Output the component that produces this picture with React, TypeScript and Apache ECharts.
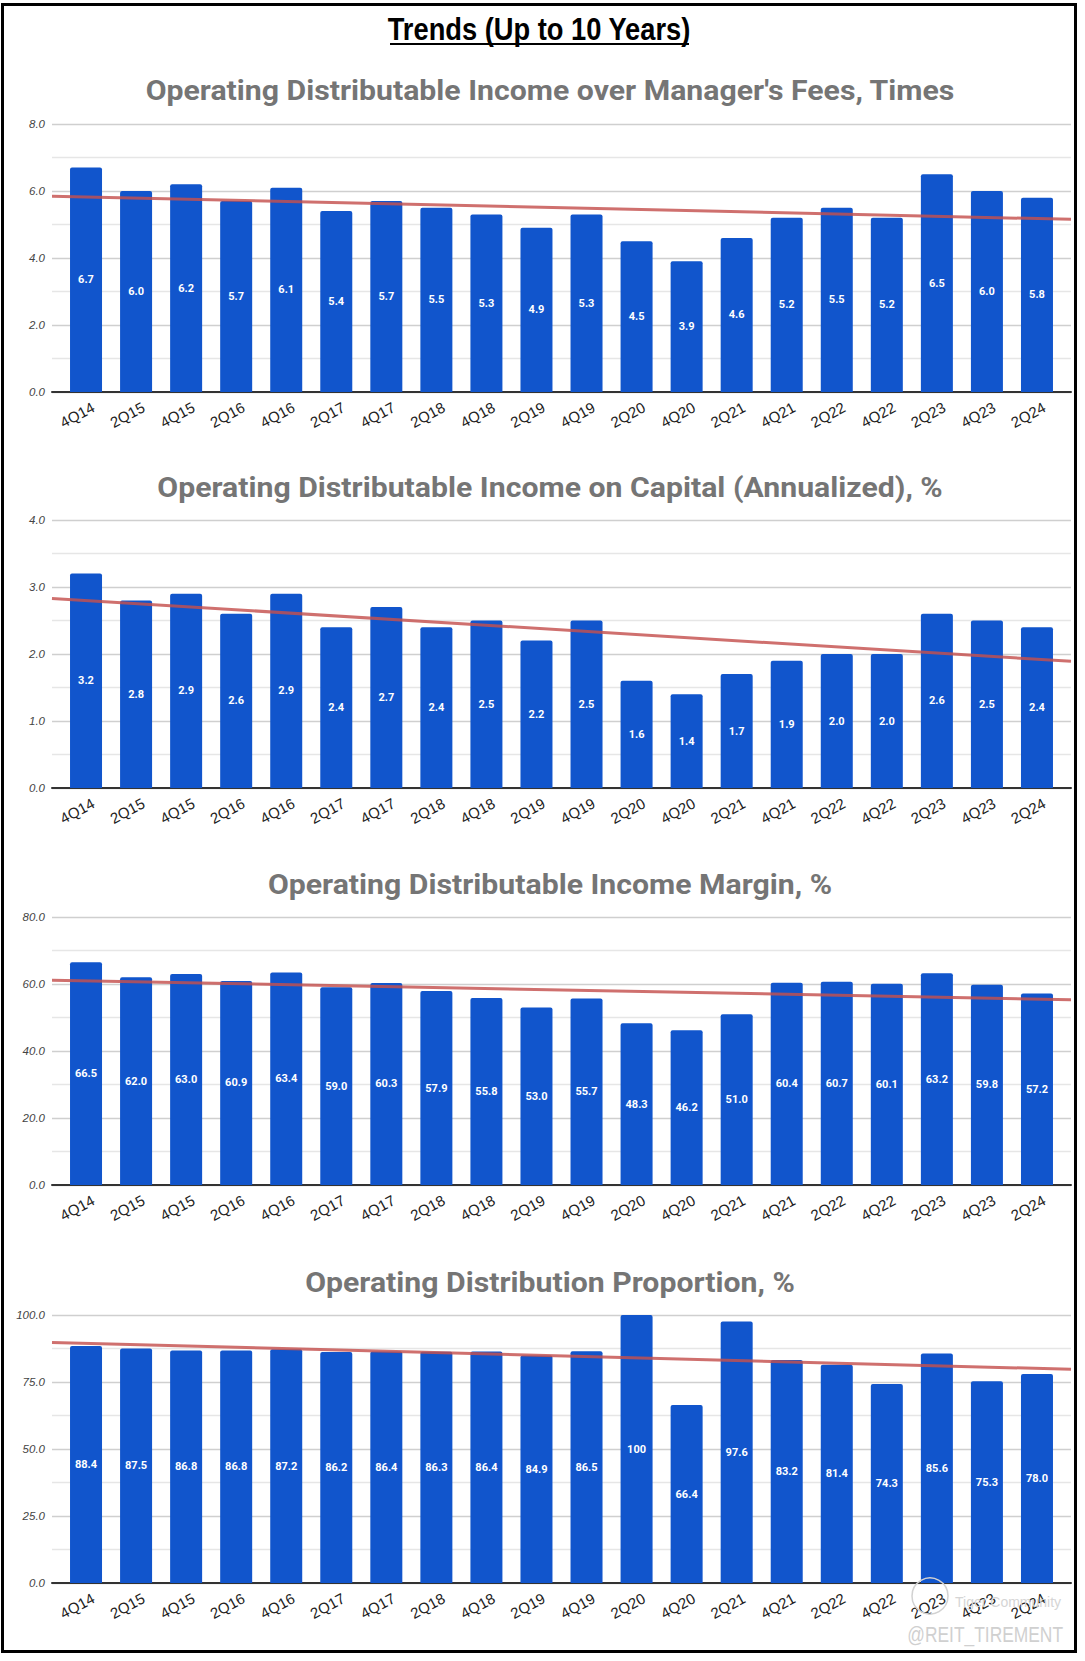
import React, { useEffect, useRef } from "react";
import * as echarts from "echarts";

const categories = [
  "4Q14", "2Q15", "4Q15", "2Q16", "4Q16", "2Q17", "4Q17", "2Q18", "4Q18", "2Q19",
  "4Q19", "2Q20", "4Q20", "2Q21", "4Q21", "2Q22", "4Q22", "2Q23", "4Q23", "2Q24",
];

const incomeOverFees = [6.7, 6.0, 6.2, 5.7, 6.1, 5.4, 5.7, 5.5, 5.3, 4.9, 5.3, 4.5, 3.9, 4.6, 5.2, 5.5, 5.2, 6.5, 6.0, 5.8];
const incomeOnCapital = [3.2, 2.8, 2.9, 2.6, 2.9, 2.4, 2.7, 2.4, 2.5, 2.2, 2.5, 1.6, 1.4, 1.7, 1.9, 2.0, 2.0, 2.6, 2.5, 2.4];
const incomeMargin = [66.5, 62.0, 63.0, 60.9, 63.4, 59.0, 60.3, 57.9, 55.8, 53.0, 55.7, 48.3, 46.2, 51.0, 60.4, 60.7, 60.1, 63.2, 59.8, 57.2];
const distributionProportion = [88.4, 87.5, 86.8, 86.8, 87.2, 86.2, 86.4, 86.3, 86.4, 84.9, 86.5, 100, 66.4, 97.6, 83.2, 81.4, 74.3, 85.6, 75.3, 78.0];

const chartTitles = [
  "Operating Distributable Income over Manager's Fees, Times",
  "Operating Distributable Income on Capital (Annualized), %",
  "Operating Distributable Income Margin, %",
  "Operating Distribution Proportion, %",
];
const yMaxima = [8, 4, 80, 100];
const yIntervals = [2, 1, 20, 25];

const mainTitle = "Trends (Up to 10 Years)";
const watermarkTop = "Tiger Community";
const watermarkBottom = "@REIT_TIREMENT";

const W = 1085;
const H = 1661;
const plotTops = [124, 520, 917, 1315];
const titleYs = [91, 488, 885, 1283];
const PLOT_H = 268;
const WIDE_L = 52;
const WIDE_R = 1071;
const BAR_L = 61;
const BAR_R = 1062;
const X_MIN = -0.68;
const X_MAX = 19.68;

function regression(vals: number[]) {
  const n = vals.length;
  let sx = 0, sy = 0, sxy = 0, sxx = 0;
  vals.forEach((v, i) => { sx += i; sy += v; sxy += i * v; sxx += i * i; });
  const b = (n * sxy - sx * sy) / (n * sxx - sx * sx);
  const a = (sy - b * sx) / n;
  return { a, b };
}

function buildOption() {
  const datasets = [incomeOverFees, incomeOnCapital, incomeMargin, distributionProportion];
  const grid: any[] = [];
  const xAxis: any[] = [];
  const yAxis: any[] = [];
  const series: any[] = [];
  const graphic: any[] = [];

  datasets.forEach((vals, k) => {
    const top = plotTops[k];
    grid.push({ left: WIDE_L, width: WIDE_R - WIDE_L, top, height: PLOT_H });
    grid.push({ left: BAR_L, width: BAR_R - BAR_L, top, height: PLOT_H });
    const wi = 2 * k;
    const bi = 2 * k + 1;
    xAxis.push({
      gridIndex: wi, type: "value", min: X_MIN, max: X_MAX,
      axisLine: { show: true, onZero: false, lineStyle: { color: "#333", width: 2 } },
      axisTick: { show: false }, axisLabel: { show: false }, splitLine: { show: false },
    });
    xAxis.push({
      gridIndex: bi, type: "category", data: categories,
      axisLine: { show: false }, axisTick: { show: false }, splitLine: { show: false },
      axisLabel: {
        rotate: 28, interval: 0, margin: 18, align: "center", verticalAlign: "middle",
        padding: [0, 20, 0, 0],
        fontFamily: "Liberation Sans, Arial, sans-serif", fontSize: 15, color: "#222",
      },
    });
    yAxis.push({
      gridIndex: wi, type: "value", min: 0, max: yMaxima[k], interval: yIntervals[k],
      axisLine: { show: false }, axisTick: { show: false },
      axisLabel: {
        margin: 7, fontFamily: "Liberation Sans, Arial, sans-serif", fontStyle: "italic",
        fontSize: 11.5, color: "#444", formatter: (v: number) => v.toFixed(1),
      },
      splitLine: { show: true, lineStyle: { color: "#cfcfcf", width: 1.3 } },
      minorTick: { show: false, splitNumber: 2 },
      minorSplitLine: { show: true, lineStyle: { color: "#e6e6e6", width: 1.3 } },
    });
    yAxis.push({
      gridIndex: bi, type: "value", min: 0, max: yMaxima[k], show: false,
      splitLine: { show: false },
    });
    series.push({
      type: "bar", xAxisIndex: bi, yAxisIndex: bi, data: vals, barWidth: 32, z: 2,
      itemStyle: { color: "#1155cc", borderRadius: [2, 2, 0, 0] },
      label: {
        show: true, position: "inside", color: "#fff", fontWeight: "bold", fontSize: 11,
        fontFamily: "Roboto, sans-serif",
        formatter: (p: any) => (p.value >= 100 ? String(Math.round(p.value)) : p.value.toFixed(1)),
      },
    });
    const { a, b } = regression(vals);
    series.push({
      type: "line", xAxisIndex: wi, yAxisIndex: wi, z: 4, symbol: "none", silent: true,
      lineStyle: { color: "#c4514e", width: 3, opacity: 0.82 },
      data: [[X_MIN, a + b * X_MIN], [X_MAX, a + b * X_MAX]],
    });
    graphic.push({
      type: "text", x: 550, y: titleYs[k], scaleX: 1.12,
      style: {
        text: chartTitles[k], fill: "#757575", font: "bold 27px Roboto, sans-serif",
        textAlign: "center", textVerticalAlign: "middle",
      },
    });
  });

  graphic.push({
    type: "rect", shape: { x: 2.5, y: 4.5, width: 1073, height: 1647 },
    style: { fill: "none", stroke: "#000", lineWidth: 3 }, z: 10,
  });
  graphic.push({
    type: "text", x: 539, y: 29, scaleX: 0.88,
    style: {
      text: mainTitle, fill: "#000", font: "bold 31px 'Liberation Sans', Arial, sans-serif",
      textAlign: "center", textVerticalAlign: "middle",
    },
  });
  graphic.push({
    type: "line", shape: { x1: 390, y1: 44, x2: 689, y2: 44 },
    style: { stroke: "#000", lineWidth: 2 },
  });
  graphic.push({
    type: "circle", shape: { cx: 930, cy: 1596, r: 18 },
    style: { fill: "none", stroke: "#d2d2d2", lineWidth: 1.5 }, z: 10,
  });
  graphic.push({
    type: "text", x: 955, y: 1602, z: 10,
    style: { text: watermarkTop, fill: "#d5d5d5", font: "14px 'Liberation Sans', sans-serif", textVerticalAlign: "middle" },
  });
  graphic.push({
    type: "text", x: 1063, y: 1634, z: 10, scaleX: 0.79,
    style: { text: watermarkBottom, fill: "#d0d0d0", font: "22px 'Liberation Sans', Arial, sans-serif", textAlign: "right", textVerticalAlign: "middle" },
  });

  return { animation: false, backgroundColor: "#fff", grid, xAxis, yAxis, series, graphic };
}

export default function App() {
  const ref = useRef<HTMLDivElement>(null);
  useEffect(() => {
    const chart = echarts.init(ref.current!, null, { renderer: "svg", width: W, height: H });
    chart.setOption(buildOption());
    return () => chart.dispose();
  }, []);
  return (
    <div
      ref={ref}
      style={{ position: "absolute", left: 0, top: 0, width: W, height: H, background: "#fff" }}
    />
  );
}
